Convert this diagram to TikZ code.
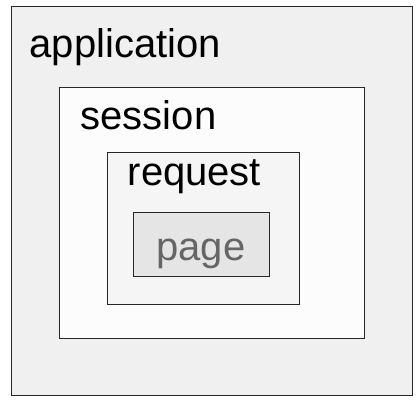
\documentclass[tikz,border=0pt]{standalone}
\usepackage{fontspec}
\setmainfont{Liberation Sans}
\begin{document}
\begin{tikzpicture}[x=1bp,y=-1bp]
\tikzset{scopebox/.style={draw=black!85,line width=1bp,inner sep=0pt,outer sep=0pt,anchor=north west},
  scopelabel/.style={inner sep=0pt,font=\fontsize{40bp}{48bp}\selectfont}}
\useasboundingbox (0,0) rectangle (420,404);
\node[scopebox,fill=black!6,minimum width=401bp,minimum height=389bp] (App) at (11,6) {};
\node[scopebox,fill=black!1,minimum width=305bp,minimum height=251bp] (Session) at (59,87) {};
\node[scopebox,fill=black!4,minimum width=192bp,minimum height=152bp] (Request) at (107,152) {};
\node[scopebox,fill=black!10,minimum width=136bp,minimum height=64bp] (Page) at (133,212) {};
\node[scopelabel,anchor=base west] (AppLabel) at (29.5,57.7) {application};
\node[scopelabel,anchor=base west] (SessionLabel) at (80.5,129.3) {session};
\node[scopelabel,anchor=base west] (RequestLabel) at (127.5,185) {request};
\node[scopelabel,anchor=base,text=black!60] (PageLabel) at (Page.center |- 0,260) {page};
\end{tikzpicture}
\end{document}
